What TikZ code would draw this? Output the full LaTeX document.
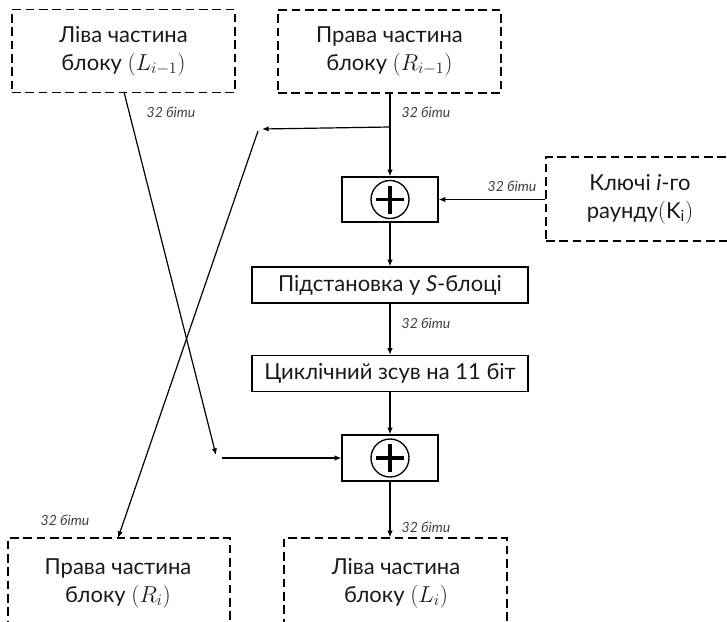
\documentclass[tikz,border=0pt]{standalone}
\usepackage{fontspec}
\setmainfont{Lato}
\usetikzlibrary{arrows.meta}
\tikzset{
  bigtext/.style={font=\fontsize{16.5}{21}\selectfont, text=black!90},
  dbox/.style={draw, dashed, dash pattern=on 6.5pt off 3.5pt, line width=0.9pt, minimum width=223*0.75pt, minimum height=83*0.75pt, align=center, inner sep=0pt, bigtext},
  sbox/.style={draw, line width=0.9pt, minimum width=276*0.75pt, minimum height=36*0.75pt, inner sep=0pt, bigtext},
  xbox/.style={draw, line width=0.9pt, minimum width=96*0.75pt, minimum height=45*0.75pt, inner sep=0pt},
  conn/.style={line width=0.9pt, -{Latex[length=5pt,width=4pt]}},
  bits/.style={font=\fontsize{10.5}{11}\selectfont\itshape, text=black!75, inner sep=0pt}
}
\newcommand{\xorsym}[1]{%
  \draw[line width=1pt] (#1) circle[radius=19*0.75pt];
  \draw[line width=2.3pt] ([xshift=-14*0.75pt]#1) -- ([xshift=14*0.75pt]#1);
  \draw[line width=2.3pt] ([yshift=-14*0.75pt]#1) -- ([yshift=14*0.75pt]#1);
}
\begin{document}
\begin{tikzpicture}[x=0.75pt,y=-0.75pt]
\useasboundingbox (0,0) rectangle (727,621);
% top boxes
\node[dbox] (tl) at (123.5,51) {Ліва частина\\блоку $(L_{i-1})$};
\node[dbox] (tr) at (389.5,51.5) {Права частина\\блоку $(R_{i-1})$};
% key box
\node[dbox, minimum width=188*0.75pt, minimum height=84*0.75pt] (key) at (640,199) {Ключі \textit{i}-го\\раунду$(\mathrm{K_i})$};
% xor 1
\node[xbox] (x1) at (390,199.5) {};
\xorsym{x1.center}
% S box
\node[sbox] (s) at (390,285) {Підстановка у \textit{S}-блоці};
% shift
\node[sbox] (sh) at (390,373.5) {Циклічний зсув на 11 біт};
% xor 2
\node[xbox, minimum height=46*0.75pt] (x2) at (390,458) {};
\xorsym{x2.center}
% bottom boxes
\node[dbox, minimum width=222*0.75pt, minimum height=100*0.75pt] (bl) at (119,588) {};
\node[dbox, minimum height=100*0.75pt] (br) at (395.5,588) {};
\node[align=center, bigtext] (blt) at (118,583) {Права частина\\блоку $(R_i)$};
\node[align=center, bigtext] (brt) at (396,583) {Ліва частина\\блоку $(L_i)$};
% coordinates
\coordinate (br1) at (390,127);
\coordinate (lt) at (262,129);
\coordinate (ds) at (258,131);
\coordinate (tlb) at (124,92);
\coordinate (le) at (216,455);
\coordinate (hs) at (222,458);
\coordinate (blt0) at (118,538);
% connectors
\draw[conn] (tr.south -| x1.north) -- (x1.north);
\draw[conn] (br1) -- (lt);
\draw[conn] (ds) -- (blt0);
\draw[conn] (tlb) -- (le);
\draw[conn] (hs) -- (x2.west);
\draw[conn] (key.west |- x1.east) -- (x1.east);
\draw[conn] (x1.south) -- (s.north);
\draw[conn] (s.south) -- (sh.north);
\draw[conn] (sh.south) -- (x2.north);
\draw[conn] (x2.south) -- (x2.south |- br.north);
% labels
\node[bits] (l1) at (171,112) {32 біти};
\node[bits] (l2) at (426,112) {32 біти};
\node[bits] (l3) at (512,186) {32 біти};
\node[bits] (l4) at (426,323) {32 біти};
\node[bits] (l5) at (65,520) {32 біти};
\node[bits] (l6) at (426,527) {32 біти};
\end{tikzpicture}
\end{document}
